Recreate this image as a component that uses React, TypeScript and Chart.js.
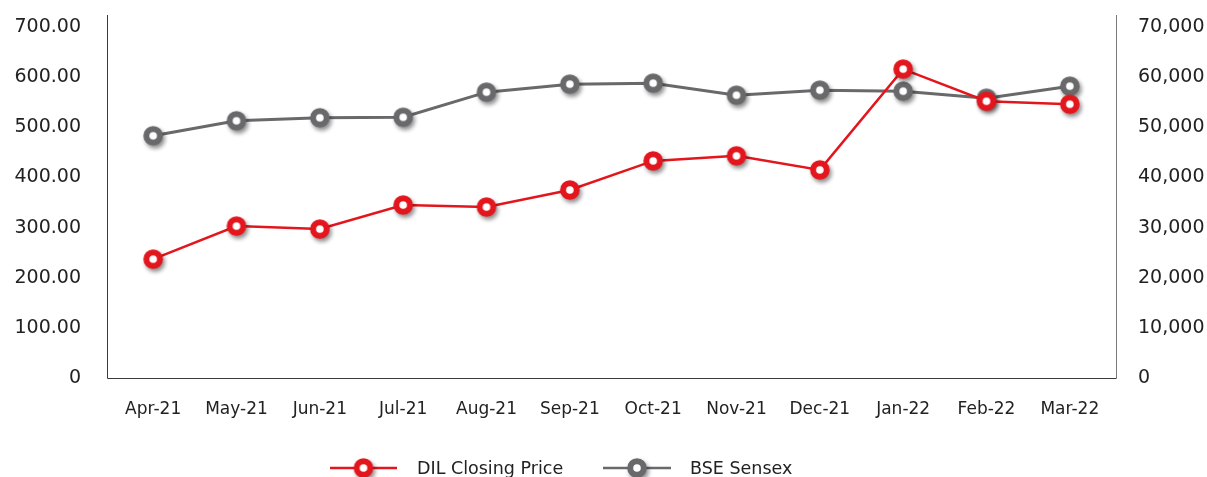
import { useEffect, useRef } from 'react';
import { Chart, registerables } from 'chart.js';

Chart.register(...registerables);

const months = ['Apr-21', 'May-21', 'Jun-21', 'Jul-21', 'Aug-21', 'Sep-21', 'Oct-21', 'Nov-21', 'Dec-21', 'Jan-22', 'Feb-22', 'Mar-22'];
const dilClosingPrice = [237, 303, 297, 345, 341, 375, 433, 443, 415, 616, 552, 546];
const bseSensex = [48300, 51300, 51900, 52000, 57000, 58600, 58800, 56400, 57400, 57200, 55800, 58200];
const leftTicks = [0, 100, 200, 300, 400, 500, 600, 700];
const rightTicks = [0, 10000, 20000, 30000, 40000, 50000, 60000, 70000];

const RED = '#E3161D';
const GREY = '#69696B';
const FONT = 'DejaVu Sans';
const INSET = 4.5;

function makeMarker(color: string): HTMLCanvasElement {
  const c = document.createElement('canvas');
  c.width = 36;
  c.height = 36;
  const ctx = c.getContext('2d')!;
  ctx.save();
  ctx.shadowColor = 'rgba(0,0,0,0.45)';
  ctx.shadowBlur = 4;
  ctx.shadowOffsetX = 2;
  ctx.shadowOffsetY = 3;
  ctx.beginPath();
  ctx.arc(18, 18, 9.8, 0, Math.PI * 2);
  ctx.fillStyle = color;
  ctx.fill();
  ctx.restore();
  ctx.beginPath();
  ctx.arc(18, 18, 3.8, 0, Math.PI * 2);
  ctx.fillStyle = '#ffffff';
  ctx.fill();
  return c;
}

export default function App() {
  const ref = useRef<HTMLCanvasElement | null>(null);

  useEffect(() => {
    if (!ref.current) return;
    const redMarker = makeMarker(RED);
    const greyMarker = makeMarker(GREY);

    const axisLines = {
      id: 'axisLines',
      beforeDatasetsDraw(chart: any) {
        const { ctx, chartArea } = chart;
        const top = chartArea.top - 12;
        const left = Math.round(chartArea.left - INSET) + 0.5;
        const right = Math.round(chartArea.right + INSET) + 0.5;
        const bottom = Math.round(chartArea.bottom) + 0.5;
        ctx.save();
        ctx.lineWidth = 1;
        ctx.strokeStyle = '#3a3a3a';
        ctx.beginPath();
        ctx.moveTo(left, top);
        ctx.lineTo(left, bottom);
        ctx.lineTo(right, bottom);
        ctx.stroke();
        ctx.strokeStyle = '#7a7a7a';
        ctx.beginPath();
        ctx.moveTo(right, top);
        ctx.lineTo(right, bottom);
        ctx.stroke();
        ctx.restore();
      },
    };

    const customLegend = {
      id: 'customLegend',
      afterDraw(chart: any) {
        const { ctx } = chart;
        const y = 468;
        const items = [
          { x1: 330, x2: 397, text: 'DIL Closing Price', tx: 417, color: RED, marker: redMarker },
          { x1: 603, x2: 671, text: 'BSE Sensex', tx: 690, color: GREY, marker: greyMarker },
        ];
        ctx.save();
        for (const it of items) {
          ctx.strokeStyle = it.color;
          ctx.lineWidth = 2.5;
          ctx.beginPath();
          ctx.moveTo(it.x1, y);
          ctx.lineTo(it.x2, y);
          ctx.stroke();
          const cx = (it.x1 + it.x2) / 2;
          ctx.drawImage(it.marker, cx - 18, y - 18);
          ctx.fillStyle = '#222222';
          ctx.font = `17.5px "${FONT}"`;
          ctx.textBaseline = 'middle';
          ctx.textAlign = 'left';
          ctx.fillText(it.text, it.tx, y + 1);
        }
        ctx.restore();
      },
    };

    const chart = new Chart(ref.current, {
      type: 'line',
      data: {
        labels: months,
        datasets: [
          {
            label: 'DIL Closing Price',
            data: dilClosingPrice,
            yAxisID: 'y',
            borderColor: RED,
            borderWidth: 2.5,
            pointStyle: redMarker as any,
            pointRadius: 10,
            tension: 0,
          },
          {
            label: 'BSE Sensex',
            data: bseSensex,
            yAxisID: 'y1',
            borderColor: GREY,
            borderWidth: 3,
            pointStyle: greyMarker as any,
            pointRadius: 10,
            tension: 0,
          },
        ],
      },
      options: {
        responsive: false,
        animation: false,
        layout: { padding: { top: 27, left: 0, right: 0, bottom: 0 } },
        plugins: {
          legend: { display: false },
          tooltip: { enabled: false },
        },
        scales: {
          x: {
            offset: true,
            grid: { display: false },
            border: { display: false },
            ticks: {
              color: '#222222',
              font: { family: FONT, size: 17 },
              padding: 13,
              maxRotation: 0,
              autoSkip: false,
            },
            afterFit(s: any) {
              s.height = 99;
              s.paddingLeft = 0;
              s.paddingRight = 0;
            },
          },
          y: {
            position: 'left',
            min: 0,
            max: 700,
            grid: { display: false },
            border: { display: false },
            afterBuildTicks(s: any) {
              s.ticks = leftTicks.map((v) => ({ value: v }));
            },
            ticks: {
              color: '#222222',
              font: { family: FONT, size: 19 },
              padding: 22.5,
              callback: (v: any) => (Number(v) === 0 ? '0' : Number(v).toFixed(2)),
            },
            afterFit(s: any) {
              s.width = 107 + INSET;
              s.paddingTop = 0;
              s.paddingBottom = 0;
            },
          },
          y1: {
            position: 'right',
            min: 0,
            max: 70000,
            grid: { display: false },
            border: { display: false },
            afterBuildTicks(s: any) {
              s.ticks = rightTicks.map((v) => ({ value: v }));
            },
            ticks: {
              color: '#222222',
              font: { family: FONT, size: 19 },
              padding: 18.5,
              callback: (v: any) => (Number(v) === 0 ? '0' : Number(v).toLocaleString('en-US')),
            },
            afterFit(s: any) {
              s.width = 91 + INSET;
              s.paddingTop = 0;
              s.paddingBottom = 0;
            },
          },
        },
      },
      plugins: [axisLines, customLegend],
    });
    return () => chart.destroy();
  }, []);

  return (
    <div style={{ position: 'absolute', left: 0, top: 0, width: 1207, height: 477, background: '#fff' }}>
      <canvas ref={ref} width={1207} height={477} style={{ display: 'block', width: 1207, height: 477 }} />
    </div>
  );
}
